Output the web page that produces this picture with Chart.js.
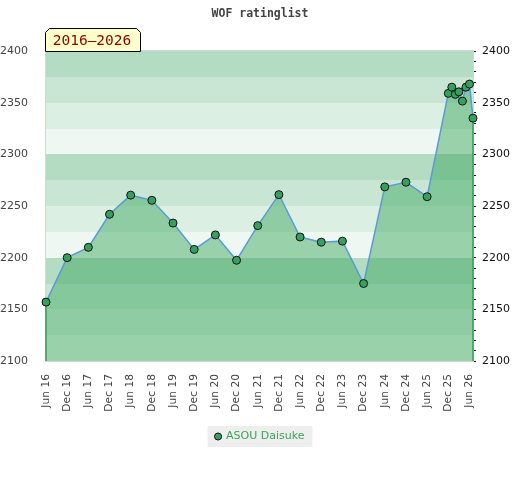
<!DOCTYPE html>
<html><head><meta charset="utf-8">
<script src="https://cdn.jsdelivr.net/npm/chart.js@4/dist/chart.umd.min.js"></script>
<style>html,body{margin:0;padding:0;background:#fff}#wrap{width:520px;height:480px;position:relative}</style>
</head><body><div id="wrap"><canvas id="c" width="520" height="480"></canvas></div>
<script>
const titleText = 'WOF ratinglist';
const periodLabel = '2016–2026';
const seriesName = 'ASOU Daisuke';
const dates = ['2016-06','2016-12','2017-06','2017-12','2018-06','2018-12','2019-06','2019-12','2020-06','2020-12',
  '2021-06','2021-12','2022-06','2022-12','2023-06','2023-12','2024-06','2024-12','2025-06','2025-12',
  '2026-01','2026-02','2026-03','2026-04','2026-05','2026-06','2026-07'];
const ratings = [2157,2200,2210,2242,2260.5,2255.5,2233.5,2208,2222,2197.5,
  2231,2261,2220,2215,2216,2175,2268.5,2273,2259,2359,
  2365,2358,2360.5,2351.5,2365,2368,2335];
const xTickLabels = ['Jun 16','Dec 16','Jun 17','Dec 17','Jun 18','Dec 18','Jun 19','Dec 19','Jun 20','Dec 20',
  'Jun 21','Dec 21','Jun 22','Dec 22','Jun 23','Dec 23','Jun 24','Dec 24','Jun 25','Dec 25','Jun 26'];
const yTickValues = [2100,2150,2200,2250,2300,2350,2400];
const yMin = 2100, yMax = 2400, bandStep = 25, minorStep = 10;
const bandColors = ['#eef7f1','#dcefe3','#c8e6d3','#b3dcc2'];

function monthIndex(s){ const [y,m] = s.split('-').map(Number); return (y-2016)*12 + (m-6); }
const months = dates.map(monthIndex);
const xTickValues = xTickLabels.map((_, i) => i*6);
const points = months.map((m, i) => ({x: m, y: ratings[i]}));
const lastI = ratings.length - 1;

const bandPlugin = {
  id: 'bands',
  beforeDatasetsDraw(chart){
    const {ctx, chartArea: a, scales: {y}} = chart;
    ctx.save();
    for (let v = y.min; v < y.max; v += bandStep){
      const idx = Math.floor((((v % 100) + 100) % 100) / bandStep);
      const t = y.getPixelForValue(v + bandStep), b = y.getPixelForValue(v);
      ctx.fillStyle = bandColors[idx];
      ctx.fillRect(a.left, Math.round(t), a.right - a.left, Math.round(b) - Math.round(t));
    }
    ctx.strokeStyle = '#d6d6d6'; ctx.lineWidth = 1;
    ctx.strokeRect(a.left - 0.5, a.top - 0.5, a.right - a.left + 1, a.bottom - a.top + 1);
    ctx.restore();
  }
};
const legendBoxPlugin = {
  id: 'legendBox',
  beforeDraw(chart){
    const lg = chart.legend; if (!lg || !lg.legendHitBoxes || !lg.legendHitBoxes.length) return;
    const hb = lg.legendHitBoxes[0];
    const ctx = chart.ctx; ctx.save();
    ctx.fillStyle = '#eeeeee';
    ctx.fillRect(hb.left - 8, hb.top - 5, hb.width + 16, hb.height + 10);
    ctx.restore();
  }
};
const periodPlugin = {
  id: 'period',
  afterDraw(chart){
    const ctx = chart.ctx, a = chart.chartArea;
    const x0 = a.left - 0.5, x1 = x0 + 95, y1 = a.top + 0.5, y0 = y1 - 23, c = 4;
    ctx.save();
    ctx.beginPath();
    ctx.moveTo(x0, y1); ctx.lineTo(x0, y0 + c); ctx.lineTo(x0 + c, y0);
    ctx.lineTo(x1 - c, y0); ctx.lineTo(x1, y0 + c); ctx.lineTo(x1, y1); ctx.closePath();
    ctx.fillStyle = '#ffffcc'; ctx.fill();
    ctx.strokeStyle = '#000'; ctx.lineWidth = 1; ctx.stroke();
    ctx.fillStyle = '#8b0000'; ctx.font = '14.5px "DejaVu Sans Mono"';
    ctx.textAlign = 'center'; ctx.textBaseline = 'middle';
    ctx.fillText(periodLabel, (x0 + x1)/2 - 1, (y0 + y1)/2 + 1);
    ctx.restore();
  }
};

new Chart(document.getElementById('c'), {
  type: 'line',
  data: {
    datasets: [
      { label: seriesName, data: points, borderColor: '#5b9bd5', borderWidth: 1.5,
        backgroundColor: 'rgba(57,166,92,0.47)', fill: 'start', tension: 0,
        pointRadius: 4, pointBackgroundColor: '#35a060', pointBorderColor: '#111', pointBorderWidth: 1,
        pointStyle: 'circle', clip: 8, order: 0 },
      { label: 'start', data: [{x: months[0], y: yMin}, {x: months[0], y: ratings[0]}],
        borderColor: '#2e9a50', borderWidth: 1.5, pointRadius: 0, fill: false, clip: 4, order: 1 },
      { label: 'end', data: [{x: months[lastI], y: yMin}, {x: months[lastI], y: ratings[lastI]}],
        borderColor: '#2e9a50', borderWidth: 1.5, pointRadius: 0, fill: false, clip: 4, order: 1 }
    ]
  },
  options: {
    responsive: false, animation: false, devicePixelRatio: 1,
    layout: { padding: { top: 0, left: 0, right: 0, bottom: 28 } },
    plugins: {
      title: { display: true, text: titleText, color: '#444',
        font: { family: '"DejaVu Sans Mono"', weight: 'bold', size: 11.5 },
        padding: { top: 7, bottom: 30.2 } },
      legend: { position: 'bottom',
        labels: { filter: (it) => it.datasetIndex === 0, usePointStyle: true, boxWidth: 5, boxHeight: 5,
          color: '#3aa655', font: { family: '"DejaVu Sans"', size: 11 }, padding: 10 } },
      tooltip: { enabled: false }
    },
    scales: {
      x: { type: 'linear', min: months[0], max: months[lastI],
        afterBuildTicks: (s) => { s.ticks = xTickValues.map(v => ({value: v})); },
        afterFit: (s) => { s.height = 60; },
        grid: { display: false }, border: { display: false },
        ticks: { autoSkip: false, minRotation: 90, maxRotation: 90, padding: 5, color: '#444',
          font: { family: '"DejaVu Sans"', size: 10.7 },
          callback: (v, i) => xTickLabels[i] } },
      y: { type: 'linear', position: 'left', min: yMin, max: yMax,
        afterBuildTicks: (s) => { s.ticks = yTickValues.map(v => ({value: v})); },
        afterFit: (s) => { s.width = 46; },
        grid: { display: false }, border: { display: false },
        ticks: { padding: 10, color: '#444', font: { family: '"DejaVu Sans"', size: 11 },
          callback: (v) => String(v) } },
      y2: { type: 'linear', position: 'right', min: yMin, max: yMax, z: 1,
        afterFit: (s) => { s.width = 47; },
        grid: { drawOnChartArea: false, drawTicks: true, tickLength: 3, color: '#111', tickWidth: 1 },
        border: { display: false },
        ticks: { stepSize: minorStep, autoSkip: false, padding: 6, color: '#111',
          font: { family: '"DejaVu Sans"', size: 11 },
          callback: (v) => yTickValues.includes(v) ? String(v) : '' } }
    }
  },
  plugins: [bandPlugin, legendBoxPlugin, periodPlugin]
});
</script>
</body></html>
